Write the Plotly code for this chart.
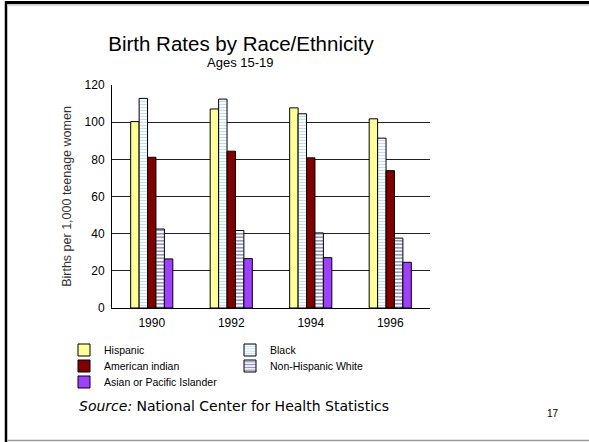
import plotly.graph_objects as go

# Teen birth rates (births per 1,000 women aged 15-19), NCHS
years = ["1990", "1992", "1994", "1996"]
hispanic = [100.3, 107.1, 107.7, 101.8]
black = [112.8, 112.4, 104.5, 91.4]
american_indian = [81.1, 84.4, 80.8, 73.9]
non_hispanic_white = [42.5, 41.7, 40.4, 37.6]
asian_pacific = [26.4, 26.6, 27.1, 24.6]
y_ticks = [0, 20, 40, 60, 80, 100, 120]

W, H = 589, 442
L, R, T, B = 112, 159, 85, 134
PW, PH = W - L - R, H - T - B

def px(x):
    return (x - L) / PW

def py(y):
    return (H - B - y) / PH

outline = dict(color="#000000", width=1)

fig = go.Figure()
fig.add_bar(name="Hispanic", x=years, y=hispanic, legend="legend",
            marker=dict(color="#FFFF99", line=outline))
fig.add_bar(name="Black", x=years, y=black, legend="legend",
            marker=dict(color="#FFFFFF", line=outline,
                        pattern=dict(shape="-", fgcolor="#88BBEE", bgcolor="#FFFFFF",
                                     size=3, solidity=0.4, fillmode="overlay")))
fig.add_bar(name="American indian", x=years, y=american_indian, legend="legend2",
            marker=dict(color="#800000", line=outline))
fig.add_bar(name="Non-Hispanic White", x=years, y=non_hispanic_white, legend="legend2",
            marker=dict(color="#FFFFFF", line=outline,
                        pattern=dict(shape="-", fgcolor="#1A1A80", bgcolor="#FFFFFF",
                                     size=3.5, solidity=0.45, fillmode="overlay")))
fig.add_bar(name="Asian or Pacific Islander", x=years, y=asian_pacific, legend="legend3",
            marker=dict(color="#A040FF", line=outline))

legend_font = dict(family="Arial, Liberation Sans", size=10.5, color="#000000")

def legend_row(y_center):
    # one legend per row so rows sit closer than the default item height
    return dict(orientation="h", xref="paper", yref="paper",
                x=px(64), xanchor="left", y=py(y_center), yanchor="middle",
                entrywidth=121, font=legend_font, bgcolor="rgba(0,0,0,0)",
                borderwidth=0, itemclick=False, itemdoubleclick=False,
                traceorder="normal")

fig.update_layout(
    width=W, height=H,
    margin=dict(l=L, r=R, t=T, b=B, pad=0, autoexpand=False),
    paper_bgcolor="#FFFFFF", plot_bgcolor="#FFFFFF",
    barmode="group", bargap=0.47, bargroupgap=0,
    font=dict(family="Arial, Liberation Sans", color="#000000"),
    title=dict(text="Birth Rates by Race/Ethnicity", xref="container", yref="container",
               x=241 / W, xanchor="center", y=1 - 44 / H, yanchor="middle",
               font=dict(family="Arial, Liberation Sans", size=20.5, color="#000000")),
    showlegend=True,
    legend=legend_row(350),
    legend2=legend_row(366),
    legend3=legend_row(382),
    xaxis=dict(showline=True, linecolor="#000000", linewidth=1, ticks="",
               ticklabelstandoff=4,
               showgrid=False, tickfont=dict(size=12, color="#000000")),
    yaxis=dict(range=[0, 120], tickvals=y_ticks, showline=True, linecolor="#000000",
               linewidth=1, showgrid=True, gridcolor="#222222", gridwidth=1,
               zeroline=False, ticks="", ticklabelstandoff=4,
               tickfont=dict(size=12, color="#000000"),
               title=dict(text="Births per 1,000 teenage women", standoff=10,
                          font=dict(size=12.5, color="#333333"))),
    annotations=[
        dict(text="Ages 15-19", xref="paper", yref="paper", x=px(240), y=py(63),
             xanchor="center", yanchor="middle", showarrow=False,
             font=dict(family="Arial, Liberation Sans", size=13, color="#000000")),
        dict(text="<i>Source:</i> National Center for Health Statistics",
             xref="paper", yref="paper", x=px(77), y=py(406),
             xanchor="left", yanchor="middle", showarrow=False,
             font=dict(family="DejaVu Sans", size=14, color="#000000")),
        dict(text="17", xref="paper", yref="paper", x=px(553), y=py(413),
             xanchor="center", yanchor="middle", showarrow=False,
             font=dict(family="Arial, Liberation Sans", size=10, color="#000000")),
    ],
    shapes=[
        # slide frame
        dict(type="line", xref="paper", yref="paper", x0=px(5), x1=px(W), y0=py(2.5), y1=py(2.5),
             line=dict(color="#000000", width=3)),
        dict(type="line", xref="paper", yref="paper", x0=px(8), x1=px(W), y0=py(5), y1=py(5),
             line=dict(color="#AAAAAA", width=1)),
        dict(type="line", xref="paper", yref="paper", x0=px(6), x1=px(6), y0=py(1), y1=py(H),
             line=dict(color="#000000", width=2.5)),
        dict(type="line", xref="paper", yref="paper", x0=px(7), x1=px(W), y0=py(440.5), y1=py(440.5),
             line=dict(color="#999999", width=1.5)),
    ],
)

fig.write_html("out.html")
